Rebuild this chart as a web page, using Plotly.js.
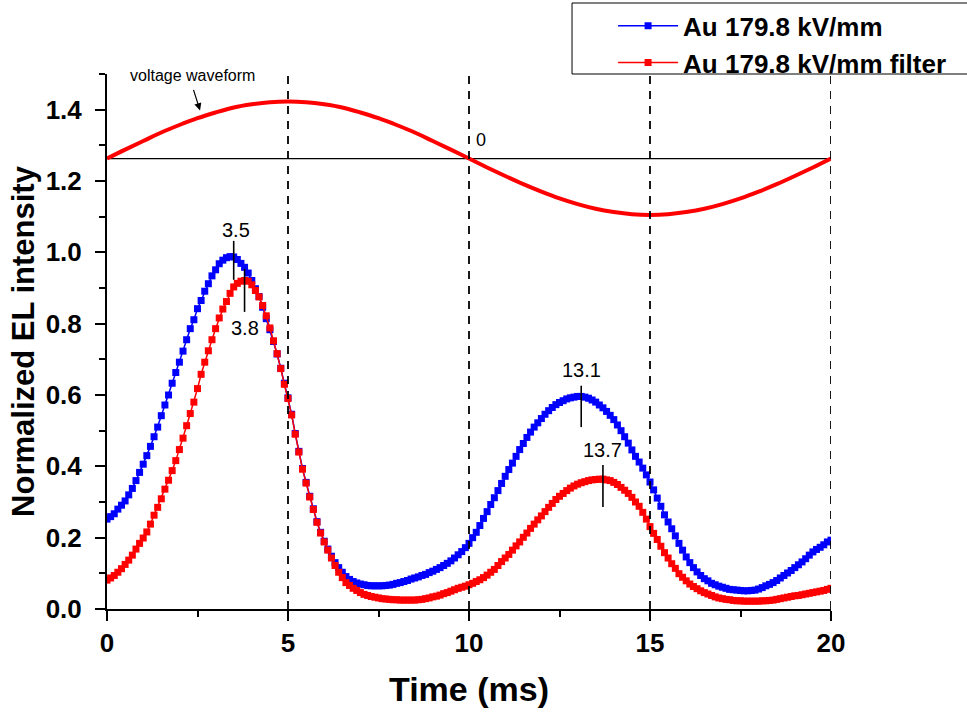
<!DOCTYPE html>
<html>
<head>
<meta charset="utf-8">
<script src="https://cdn.plot.ly/plotly-3.0.1.min.js"></script>
<style>html,body{margin:0;padding:0;background:#fff;}#chart{width:967px;height:716px;}</style>
</head>
<body>
<div id="chart"></div>
<script>
// ---- data ----
const timeMs = [
0.0,0.1,0.2,0.3,0.4,0.5,0.6,0.7,0.8,0.9,
1.0,1.1,1.2,1.3,1.4,1.5,1.6,1.7,1.8,1.9,
2.0,2.1,2.2,2.3,2.4,2.5,2.6,2.7,2.8,2.9,
3.0,3.1,3.2,3.3,3.4,3.5,3.6,3.7,3.8,3.9,
4.0,4.1,4.2,4.3,4.4,4.5,4.6,4.7,4.8,4.9,
5.0,5.1,5.2,5.3,5.4,5.5,5.6,5.7,5.8,5.9,
6.0,6.1,6.2,6.3,6.4,6.5,6.6,6.7,6.8,6.9,
7.0,7.1,7.2,7.3,7.4,7.5,7.6,7.7,7.8,7.9,
8.0,8.1,8.2,8.3,8.4,8.5,8.6,8.7,8.8,8.9,
9.0,9.1,9.2,9.3,9.4,9.5,9.6,9.7,9.8,9.9,
10.0,10.1,10.2,10.3,10.4,10.5,10.6,10.7,10.8,10.9,
11.0,11.1,11.2,11.3,11.4,11.5,11.6,11.7,11.8,11.9,
12.0,12.1,12.2,12.3,12.4,12.5,12.6,12.7,12.8,12.9,
13.0,13.1,13.2,13.3,13.4,13.5,13.6,13.7,13.8,13.9,
14.0,14.1,14.2,14.3,14.4,14.5,14.6,14.7,14.8,14.9,
15.0,15.1,15.2,15.3,15.4,15.5,15.6,15.7,15.8,15.9,
16.0,16.1,16.2,16.3,16.4,16.5,16.6,16.7,16.8,16.9,
17.0,17.1,17.2,17.3,17.4,17.5,17.6,17.7,17.8,17.9,
18.0,18.1,18.2,18.3,18.4,18.5,18.6,18.7,18.8,18.9,
19.0,19.1,19.2,19.3,19.4,19.5,19.6,19.7,19.8,19.9,
20.0];

const auIntensity = [
0.252,0.259,0.267,0.280,0.291,0.303,0.320,0.338,0.360,0.383,
0.406,0.430,0.456,0.483,0.510,0.542,0.572,0.600,0.633,0.663,
0.692,0.723,0.755,0.786,0.811,0.842,0.865,0.891,0.912,0.934,
0.951,0.968,0.978,0.985,0.988,0.987,0.980,0.969,0.958,0.942,
0.921,0.898,0.876,0.846,0.814,0.783,0.750,0.715,0.675,0.633,
0.592,0.546,0.492,0.442,0.394,0.355,0.316,0.281,0.245,0.215,
0.190,0.168,0.148,0.130,0.116,0.103,0.091,0.083,0.077,0.073,
0.070,0.068,0.066,0.065,0.065,0.065,0.065,0.066,0.067,0.069,
0.072,0.074,0.077,0.080,0.084,0.087,0.090,0.094,0.097,0.102,
0.106,0.111,0.116,0.122,0.128,0.135,0.143,0.152,0.161,0.172,
0.184,0.200,0.215,0.234,0.254,0.273,0.293,0.312,0.332,0.352,
0.372,0.391,0.409,0.428,0.447,0.464,0.481,0.496,0.510,0.522,
0.534,0.546,0.556,0.565,0.573,0.579,0.584,0.589,0.592,0.594,
0.596,0.596,0.594,0.591,0.586,0.580,0.572,0.564,0.554,0.543,
0.531,0.516,0.500,0.483,0.465,0.446,0.428,0.412,0.395,0.376,
0.356,0.334,0.311,0.288,0.264,0.244,0.225,0.205,0.184,0.165,
0.146,0.130,0.116,0.104,0.094,0.085,0.079,0.072,0.068,0.064,
0.061,0.058,0.055,0.054,0.053,0.052,0.051,0.051,0.052,0.053,
0.056,0.060,0.065,0.069,0.074,0.080,0.087,0.094,0.101,0.108,
0.116,0.124,0.132,0.141,0.151,0.160,0.167,0.173,0.180,0.188,
0.193];

const auFilterIntensity = [
0.081,0.087,0.094,0.103,0.113,0.125,0.137,0.151,0.168,0.184,
0.199,0.216,0.238,0.263,0.285,0.309,0.336,0.361,0.388,0.416,
0.447,0.479,0.514,0.548,0.580,0.618,0.658,0.692,0.724,0.755,
0.786,0.816,0.841,0.862,0.885,0.903,0.913,0.919,0.921,0.919,
0.909,0.893,0.875,0.851,0.822,0.788,0.752,0.716,0.674,0.630,
0.590,0.544,0.490,0.440,0.392,0.353,0.314,0.279,0.243,0.213,
0.188,0.165,0.143,0.122,0.103,0.088,0.074,0.066,0.058,0.052,
0.046,0.041,0.038,0.035,0.033,0.031,0.029,0.028,0.027,0.026,
0.026,0.025,0.025,0.025,0.025,0.025,0.026,0.027,0.029,0.031,
0.034,0.036,0.039,0.043,0.046,0.050,0.054,0.058,0.061,0.064,
0.068,0.072,0.077,0.082,0.088,0.095,0.103,0.111,0.122,0.133,
0.143,0.153,0.165,0.177,0.188,0.201,0.213,0.226,0.238,0.250,
0.261,0.273,0.285,0.296,0.307,0.316,0.324,0.332,0.339,0.345,
0.350,0.354,0.357,0.360,0.362,0.363,0.364,0.364,0.362,0.360,
0.355,0.349,0.341,0.333,0.324,0.313,0.300,0.288,0.271,0.252,
0.231,0.212,0.195,0.176,0.158,0.143,0.127,0.114,0.099,0.089,
0.079,0.070,0.063,0.057,0.051,0.046,0.042,0.038,0.034,0.031,
0.029,0.027,0.026,0.024,0.023,0.023,0.022,0.022,0.022,0.022,
0.022,0.023,0.023,0.024,0.025,0.027,0.029,0.031,0.033,0.035,
0.037,0.038,0.040,0.042,0.044,0.046,0.048,0.050,0.052,0.055,
0.058];

const voltTime = [0,0.5,1,1.5,2,2.5,3,3.5,4,4.5,5,5.5,6,6.5,7,7.5,8,8.5,9,9.5,10,
  10.5,11,11.5,12,12.5,13,13.5,14,14.5,15,15.5,16,16.5,17,17.5,18,18.5,19,19.5,20];
const voltWave = [1.263,1.288,1.312,1.336,1.357,1.376,1.392,1.406,1.415,1.421,1.423,
  1.421,1.415,1.406,1.392,1.376,1.357,1.336,1.312,1.288,1.263,
  1.238,1.214,1.191,1.170,1.151,1.135,1.122,1.113,1.107,1.105,
  1.107,1.113,1.122,1.135,1.151,1.170,1.191,1.214,1.238,1.263];
const voltZero = 1.263;

const seriesNames = ['Au 179.8 kV/mm', 'Au 179.8 kV/mm filter'];
const peakTimes = [3.5, 3.8, 13.1, 13.7];
const peakLabels = ['3.5', '3.8', '13.1', '13.7'];
const dashTimes = [5, 10, 15, 20];
const xTickVals = [0, 5, 10, 15, 20];
const yTickVals = [0, 0.2, 0.4, 0.6, 0.8, 1.0, 1.2, 1.4];

// ---- styling ----
const FONT = 'Liberation Sans, Arial, sans-serif';
const BLUE = '#0000ff', RED = '#ff0000';

const traces = [
  {x: timeMs, y: auIntensity, name: seriesNames[0], type: 'scatter', mode: 'lines+markers',
   line: {color: BLUE, width: 1.5}, marker: {symbol: 'square', size: 7, color: BLUE}},
  {x: timeMs, y: auFilterIntensity, name: seriesNames[1], type: 'scatter', mode: 'lines+markers',
   line: {color: RED, width: 1.5}, marker: {symbol: 'square', size: 7, color: RED}},
  {x: voltTime, y: voltWave, type: 'scatter', mode: 'lines', showlegend: false,
   line: {color: RED, width: 4, shape: 'spline'}, hoverinfo: 'skip'}
];

const shapes = [];
dashTimes.forEach(t => shapes.push({type: 'line', xref: 'x', yref: 'y', x0: t, x1: t, y0: 0, y1: 1.5,
  line: {color: '#000', width: 1.8, dash: '8px,7px'}, layer: 'above'}));
shapes.push({type: 'line', xref: 'x', yref: 'y', x0: 0, x1: 20, y0: voltZero, y1: voltZero,
  line: {color: '#000', width: 1.3}, layer: 'below'});
// peak marker ticks
const peakSpans = [[0.923, 1.032], [0.833, 0.954], [0.510, 0.626], [0.286, 0.404]];
peakTimes.forEach((t, i) => shapes.push({type: 'line', xref: 'x', yref: 'y', x0: t, x1: t,
  y0: peakSpans[i][0], y1: peakSpans[i][1], line: {color: '#000', width: 1.6}, layer: 'above'}));
// legend frame
shapes.push({type: 'rect', xref: 'paper', yref: 'paper', x0: 0.6423, x1: 1.25, y0: 1.0, y1: 1.1327,
  line: {color: '#000', width: 1}, fillcolor: 'rgba(0,0,0,0)'});

const peakLabelPos = [1.063, 0.788, 0.670, 0.446];
const annotations = peakTimes.map((t, i) => ({
  x: t + (i === 0 ? 0.05 : 0), y: peakLabelPos[i], xref: 'x', yref: 'y', text: peakLabels[i],
  showarrow: false, font: {family: FONT, size: 20, color: '#000'}, xanchor: 'center', yanchor: 'middle'
}));
annotations.push({x: 2.35, y: 1.495, xref: 'x', yref: 'y', text: 'voltage waveform', showarrow: false,
  font: {family: FONT, size: 16, color: '#000'}, xanchor: 'center', yanchor: 'middle'});
annotations.push({x: 2.57, y: 1.398, xref: 'x', yref: 'y', text: '', showarrow: true,
  ax: -7, ay: -22, arrowhead: 2, arrowsize: 1.2, arrowwidth: 1.2, arrowcolor: '#000'});
annotations.push({x: 10.33, y: 1.315, xref: 'x', yref: 'y', text: '0', showarrow: false,
  font: {family: FONT, size: 18, color: '#000'}, xanchor: 'center', yanchor: 'middle'});

const layout = {
  width: 967, height: 716,
  margin: {l: 107, r: 136, t: 74, b: 107, autoexpand: false},
  paper_bgcolor: '#fff', plot_bgcolor: '#fff',
  font: {family: FONT, color: '#000'},
  showlegend: true,
  legend: {x: 0.699, y: 1.134, xanchor: 'left', yanchor: 'top', bgcolor: 'rgba(0,0,0,0)',
    borderwidth: 0, itemwidth: 60, tracegroupgap: 0,
    font: {family: FONT, size: 26, color: '#000', weight: 'bold'}},
  xaxis: {
    range: [0, 20], tickvals: xTickVals, ticktext: xTickVals.map(String),
    showgrid: false, zeroline: false, showline: true, linecolor: '#000', linewidth: 2,
    ticks: 'outside', ticklen: 10, tickwidth: 2, tickcolor: '#000', ticklabelstandoff: 0,
    minor: {dtick: 2.5, tick0: 0, ticks: 'outside', ticklen: 6, tickwidth: 2, tickcolor: '#000', showgrid: false},
    tickfont: {family: FONT, size: 26, color: '#000', weight: 'bold'},
    title: {text: 'Time (ms)', font: {family: FONT, size: 34, color: '#000', weight: 'bold'}, standoff: 20}
  },
  yaxis: {
    range: [0, 1.5], tickvals: yTickVals, ticktext: yTickVals.map(v => v.toFixed(1)),
    showgrid: false, zeroline: false, showline: true, linecolor: '#000', linewidth: 2,
    ticks: 'outside', ticklen: 10, tickwidth: 2, tickcolor: '#000', ticklabelstandoff: 8,
    minor: {dtick: 0.1, tick0: 0, ticks: 'outside', ticklen: 6, tickwidth: 2, tickcolor: '#000', showgrid: false},
    tickfont: {family: FONT, size: 26, color: '#000', weight: 'bold'},
    title: {text: 'Normalized EL intensity', font: {family: FONT, size: 31, color: '#000', weight: 'bold'}, standoff: 2}
  },
  shapes: shapes,
  annotations: annotations
};

Plotly.newPlot('chart', traces, layout, {displayModeBar: false, staticPlot: true});
</script>
</body>
</html>
